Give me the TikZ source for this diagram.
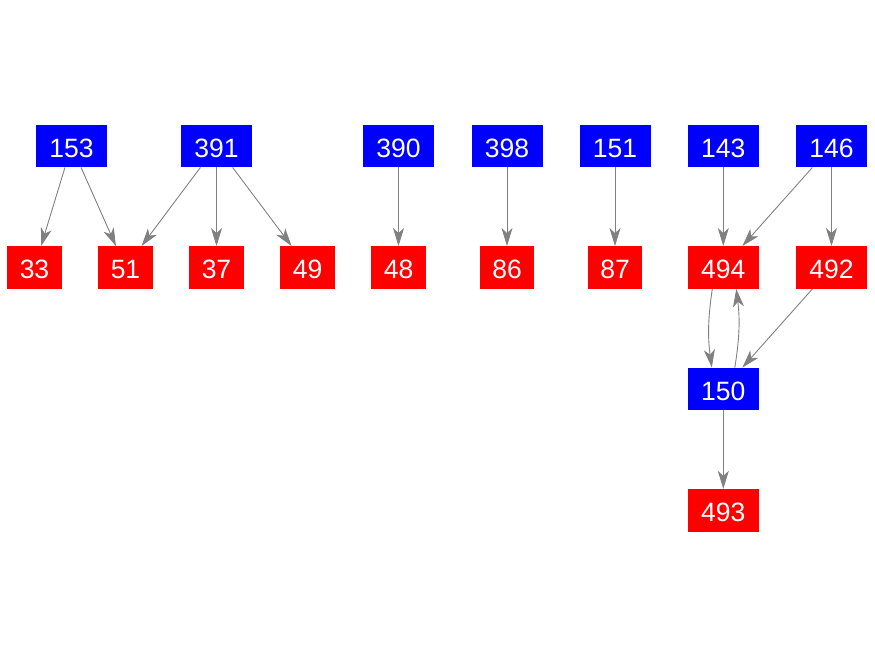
\documentclass[tikz,border=0pt]{standalone}
\usepackage{fontspec}
\setmainfont{Liberation Sans}
\usepackage{tikz}
\usetikzlibrary{positioning,arrows.meta}
\usepackage{xcolor}
\definecolor{edgegray}{gray}{0.5}
\definecolor{srcblue}{RGB}{0,0,255}
\definecolor{dstred}{RGB}{255,0,0}

\begin{document}
\begin{tikzpicture}[x=1pt, y=-1pt,
    box/.style={rectangle, text=white, inner xsep=12.5pt, inner ysep=0pt,
        text height=22.6pt, text depth=0pt,
        minimum height=42.5pt, font=\fontsize{26.5}{30}\selectfont},
    wide/.style={minimum width=71pt},
    src/.style={box, wide, fill=srcblue},
    dst/.style={box, fill=dstred},
    link/.style={-{Stealth[length=18pt, width=11pt, inset=5pt]}, draw=edgegray, line width=0.9pt}]
    \useasboundingbox (0,0) rectangle (875,656);

    % Sources
    \node[src] (n153) at (71.5, 146) {153};
    \node[src] (n391) at (216.5, 146) {391};
    \node[src] (n390) at (398.5, 146) {390};
    \node[src] (n398) at (507, 146) {398};
    \node[src] (n151) at (615, 146) {151};
    \node[src] (n143) at (723.3, 146) {143};
    \node[src] (n146) at (831.5, 146) {146};

    % Targets
    \node[dst] (n33) at (34.5, 267.5) {33};
    \node[dst] (n51) at (125.5, 267.5) {51};
    \node[dst] (n37) at (216.5, 267.5) {37};
    \node[dst] (n49) at (307.7, 267.5) {49};
    \node[dst] (n48) at (398.5, 267.5) {48};
    \node[dst] (n86) at (507, 267.5) {86};
    \node[dst] (n87) at (615, 267.5) {87};
    \node[dst, wide] (n494) at (723.3, 267.5) {494};
    \node[dst, wide] (n492) at (831.5, 267.5) {492};

    % Lower part
    \node[src] (n150) at (723.3, 389) {150};
    \node[dst, wide] (n493) at (723.3, 510.3) {493};

    % Edges
    \draw[link] (n153) -- (n33);
    \draw[link] (n153) -- (n51);
    \draw[link] (n391) -- (n51);
    \draw[link] (n391) -- (n37);
    \draw[link] (n391) -- (n49);
    \draw[link] (n390) -- (n48);
    \draw[link] (n398) -- (n86);
    \draw[link] (n151) -- (n87);
    \draw[link] (n143) -- (n494);
    \draw[link] (n146) -- (n494);
    \draw[link] (n146) -- (n492);
    \draw[link] ([xshift=-11pt]n494.south) to[bend right=8] ([xshift=-11.5pt]n150.north);
    \draw[link] ([xshift=11.5pt]n150.north) to[bend right=8] ([xshift=13pt]n494.south);
    \draw[link] (n492) -- (n150);
    \draw[link] (n150) -- (n493);
\end{tikzpicture}
\end{document}
